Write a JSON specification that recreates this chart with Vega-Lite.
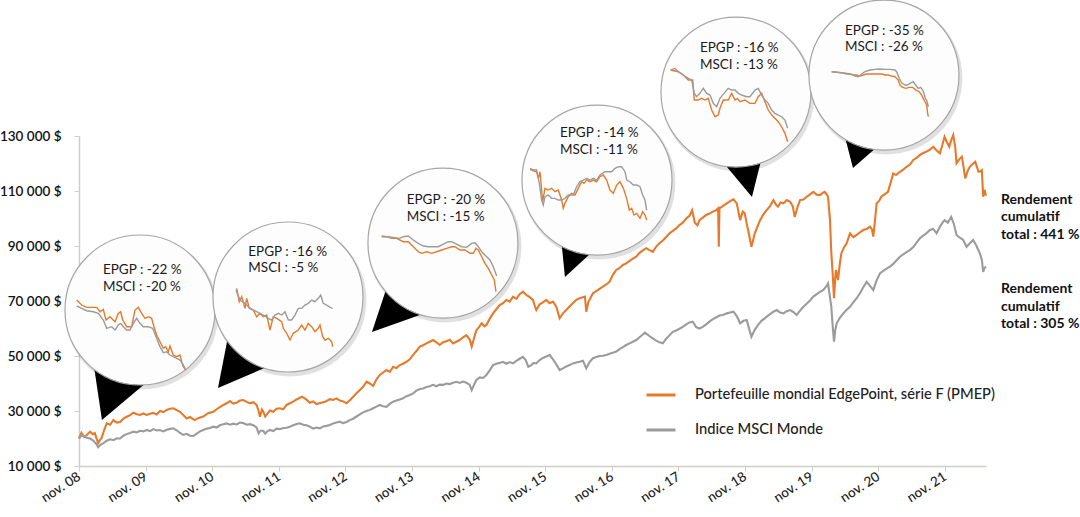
{
  "$schema": "https://vega.github.io/schema/vega-lite/v6.json",
  "width": 907,
  "height": 330,
  "autosize": "none",
  "padding": {"left": 79, "top": 136, "right": 94, "bottom": 51},
  "background": "white",
  "config": {
    "view": {"stroke": null},
    "font": "Lato",
    "axis": {"labelFont": "Lato", "grid": false}
  },
  "datasets": {
    "main": [
      {"series":"EPGP","year":2008.833,"value":20000},{"series":"EPGP","year":2008.87,"value":22000},{"series":"EPGP","year":2008.91,"value":20500},{"series":"EPGP","year":2008.94,"value":21000},{"series":"EPGP","year":2009.0,"value":22500},{"series":"EPGP","year":2009.04,"value":21600},{"series":"EPGP","year":2009.07,"value":22000},{"series":"EPGP","year":2009.1,"value":19800},{"series":"EPGP","year":2009.12,"value":18300},{"series":"EPGP","year":2009.15,"value":19500},{"series":"EPGP","year":2009.17,"value":20000},{"series":"EPGP","year":2009.21,"value":23000},{"series":"EPGP","year":2009.25,"value":25500},{"series":"EPGP","year":2009.3,"value":25000},{"series":"EPGP","year":2009.35,"value":26700},{"series":"EPGP","year":2009.4,"value":25800},{"series":"EPGP","year":2009.45,"value":26000},{"series":"EPGP","year":2009.5,"value":27200},{"series":"EPGP","year":2009.55,"value":27900},{"series":"EPGP","year":2009.6,"value":28500},{"series":"EPGP","year":2009.65,"value":29400},{"series":"EPGP","year":2009.7,"value":28800},{"series":"EPGP","year":2009.75,"value":28600},{"series":"EPGP","year":2009.8,"value":29100},{"series":"EPGP","year":2009.85,"value":28600},{"series":"EPGP","year":2009.9,"value":29000},{"series":"EPGP","year":2009.95,"value":29300},{"series":"EPGP","year":2010.0,"value":28700},{"series":"EPGP","year":2010.05,"value":30000},{"series":"EPGP","year":2010.1,"value":29600},{"series":"EPGP","year":2010.15,"value":30400},{"series":"EPGP","year":2010.2,"value":30800},{"series":"EPGP","year":2010.25,"value":31000},{"series":"EPGP","year":2010.3,"value":30300},{"series":"EPGP","year":2010.35,"value":29700},{"series":"EPGP","year":2010.4,"value":28500},{"series":"EPGP","year":2010.45,"value":27300},{"series":"EPGP","year":2010.5,"value":27800},{"series":"EPGP","year":2010.57,"value":26700},{"series":"EPGP","year":2010.63,"value":27500},{"series":"EPGP","year":2010.7,"value":28000},{"series":"EPGP","year":2010.77,"value":29200},{"series":"EPGP","year":2010.85,"value":29700},{"series":"EPGP","year":2010.92,"value":31000},{"series":"EPGP","year":2011.0,"value":32200},{"series":"EPGP","year":2011.05,"value":32800},{"series":"EPGP","year":2011.1,"value":33600},{"series":"EPGP","year":2011.15,"value":32700},{"series":"EPGP","year":2011.2,"value":33000},{"series":"EPGP","year":2011.25,"value":33800},{"series":"EPGP","year":2011.3,"value":34000},{"series":"EPGP","year":2011.35,"value":33300},{"series":"EPGP","year":2011.4,"value":32800},{"series":"EPGP","year":2011.45,"value":33200},{"series":"EPGP","year":2011.5,"value":32200},{"series":"EPGP","year":2011.53,"value":30000},{"series":"EPGP","year":2011.55,"value":27900},{"series":"EPGP","year":2011.58,"value":30500},{"series":"EPGP","year":2011.6,"value":29700},{"series":"EPGP","year":2011.63,"value":28000},{"series":"EPGP","year":2011.65,"value":28600},{"series":"EPGP","year":2011.7,"value":30200},{"series":"EPGP","year":2011.75,"value":29700},{"series":"EPGP","year":2011.8,"value":30800},{"series":"EPGP","year":2011.85,"value":31000},{"series":"EPGP","year":2011.9,"value":30600},{"series":"EPGP","year":2011.95,"value":32200},{"series":"EPGP","year":2012.0,"value":32800},{"series":"EPGP","year":2012.05,"value":33400},{"series":"EPGP","year":2012.1,"value":34200},{"series":"EPGP","year":2012.18,"value":35200},{"series":"EPGP","year":2012.24,"value":34300},{"series":"EPGP","year":2012.3,"value":33000},{"series":"EPGP","year":2012.35,"value":33500},{"series":"EPGP","year":2012.4,"value":32500},{"series":"EPGP","year":2012.47,"value":33000},{"series":"EPGP","year":2012.53,"value":33400},{"series":"EPGP","year":2012.6,"value":34300},{"series":"EPGP","year":2012.65,"value":34000},{"series":"EPGP","year":2012.7,"value":34600},{"series":"EPGP","year":2012.75,"value":33800},{"series":"EPGP","year":2012.8,"value":33500},{"series":"EPGP","year":2012.85,"value":32800},{"series":"EPGP","year":2012.9,"value":33900},{"series":"EPGP","year":2012.95,"value":35200},{"series":"EPGP","year":2013.0,"value":36500},{"series":"EPGP","year":2013.05,"value":37600},{"series":"EPGP","year":2013.1,"value":38800},{"series":"EPGP","year":2013.15,"value":40700},{"series":"EPGP","year":2013.2,"value":40000},{"series":"EPGP","year":2013.25,"value":39100},{"series":"EPGP","year":2013.3,"value":41500},{"series":"EPGP","year":2013.35,"value":43100},{"series":"EPGP","year":2013.4,"value":44000},{"series":"EPGP","year":2013.45,"value":44900},{"series":"EPGP","year":2013.5,"value":44200},{"series":"EPGP","year":2013.55,"value":46100},{"series":"EPGP","year":2013.6,"value":45600},{"series":"EPGP","year":2013.65,"value":46700},{"series":"EPGP","year":2013.7,"value":47200},{"series":"EPGP","year":2013.75,"value":47900},{"series":"EPGP","year":2013.8,"value":48800},{"series":"EPGP","year":2013.85,"value":50400},{"series":"EPGP","year":2013.9,"value":51800},{"series":"EPGP","year":2013.95,"value":53400},{"series":"EPGP","year":2014.0,"value":53900},{"series":"EPGP","year":2014.05,"value":54600},{"series":"EPGP","year":2014.1,"value":55200},{"series":"EPGP","year":2014.15,"value":55800},{"series":"EPGP","year":2014.2,"value":55000},{"series":"EPGP","year":2014.25,"value":54000},{"series":"EPGP","year":2014.3,"value":55000},{"series":"EPGP","year":2014.35,"value":55400},{"series":"EPGP","year":2014.4,"value":55900},{"series":"EPGP","year":2014.45,"value":54600},{"series":"EPGP","year":2014.5,"value":55200},{"series":"EPGP","year":2014.55,"value":55800},{"series":"EPGP","year":2014.6,"value":56800},{"series":"EPGP","year":2014.65,"value":57600},{"series":"EPGP","year":2014.7,"value":56000},{"series":"EPGP","year":2014.73,"value":53400},{"series":"EPGP","year":2014.77,"value":57000},{"series":"EPGP","year":2014.8,"value":59400},{"series":"EPGP","year":2014.84,"value":60500},{"series":"EPGP","year":2014.88,"value":61900},{"series":"EPGP","year":2014.92,"value":60800},{"series":"EPGP","year":2014.95,"value":61300},{"series":"EPGP","year":2015.0,"value":63500},{"series":"EPGP","year":2015.05,"value":65500},{"series":"EPGP","year":2015.1,"value":67000},{"series":"EPGP","year":2015.15,"value":68500},{"series":"EPGP","year":2015.2,"value":69200},{"series":"EPGP","year":2015.25,"value":70400},{"series":"EPGP","year":2015.3,"value":69800},{"series":"EPGP","year":2015.35,"value":71600},{"series":"EPGP","year":2015.4,"value":70800},{"series":"EPGP","year":2015.45,"value":72500},{"series":"EPGP","year":2015.5,"value":73400},{"series":"EPGP","year":2015.55,"value":72200},{"series":"EPGP","year":2015.6,"value":71400},{"series":"EPGP","year":2015.65,"value":70400},{"series":"EPGP","year":2015.68,"value":68000},{"series":"EPGP","year":2015.7,"value":66700},{"series":"EPGP","year":2015.75,"value":68800},{"series":"EPGP","year":2015.8,"value":69500},{"series":"EPGP","year":2015.85,"value":70400},{"series":"EPGP","year":2015.9,"value":69200},{"series":"EPGP","year":2015.95,"value":69800},{"series":"EPGP","year":2016.0,"value":67900},{"series":"EPGP","year":2016.05,"value":63700},{"series":"EPGP","year":2016.1,"value":65500},{"series":"EPGP","year":2016.15,"value":66700},{"series":"EPGP","year":2016.2,"value":68000},{"series":"EPGP","year":2016.25,"value":69300},{"series":"EPGP","year":2016.3,"value":70400},{"series":"EPGP","year":2016.35,"value":71000},{"series":"EPGP","year":2016.43,"value":71600},{"series":"EPGP","year":2016.45,"value":66100},{"series":"EPGP","year":2016.48,"value":69500},{"series":"EPGP","year":2016.55,"value":72800},{"series":"EPGP","year":2016.6,"value":73600},{"series":"EPGP","year":2016.65,"value":74400},{"series":"EPGP","year":2016.7,"value":75200},{"series":"EPGP","year":2016.75,"value":76000},{"series":"EPGP","year":2016.8,"value":77000},{"series":"EPGP","year":2016.85,"value":79500},{"series":"EPGP","year":2016.9,"value":81300},{"series":"EPGP","year":2016.95,"value":82000},{"series":"EPGP","year":2017.0,"value":83100},{"series":"EPGP","year":2017.05,"value":83700},{"series":"EPGP","year":2017.1,"value":84600},{"series":"EPGP","year":2017.15,"value":85400},{"series":"EPGP","year":2017.2,"value":86100},{"series":"EPGP","year":2017.25,"value":87500},{"series":"EPGP","year":2017.3,"value":88400},{"series":"EPGP","year":2017.35,"value":89200},{"series":"EPGP","year":2017.4,"value":88500},{"series":"EPGP","year":2017.45,"value":87900},{"series":"EPGP","year":2017.5,"value":89800},{"series":"EPGP","year":2017.55,"value":91000},{"series":"EPGP","year":2017.6,"value":92000},{"series":"EPGP","year":2017.65,"value":93300},{"series":"EPGP","year":2017.7,"value":94600},{"series":"EPGP","year":2017.75,"value":95500},{"series":"EPGP","year":2017.8,"value":96400},{"series":"EPGP","year":2017.85,"value":97600},{"series":"EPGP","year":2017.9,"value":98500},{"series":"EPGP","year":2017.95,"value":100000},{"series":"EPGP","year":2018.0,"value":101000},{"series":"EPGP","year":2018.04,"value":103000},{"series":"EPGP","year":2018.08,"value":98500},{"series":"EPGP","year":2018.12,"value":97500},{"series":"EPGP","year":2018.15,"value":99400},{"series":"EPGP","year":2018.2,"value":100300},{"series":"EPGP","year":2018.25,"value":101300},{"series":"EPGP","year":2018.3,"value":101800},{"series":"EPGP","year":2018.35,"value":102500},{"series":"EPGP","year":2018.4,"value":103000},{"series":"EPGP","year":2018.43,"value":103700},{"series":"EPGP","year":2018.44,"value":89700},{"series":"EPGP","year":2018.45,"value":103700},{"series":"EPGP","year":2018.5,"value":104500},{"series":"EPGP","year":2018.56,"value":105500},{"series":"EPGP","year":2018.61,"value":106300},{"series":"EPGP","year":2018.66,"value":107000},{"series":"EPGP","year":2018.71,"value":105500},{"series":"EPGP","year":2018.76,"value":99400},{"series":"EPGP","year":2018.8,"value":102500},{"series":"EPGP","year":2018.83,"value":101900},{"series":"EPGP","year":2018.86,"value":98000},{"series":"EPGP","year":2018.88,"value":95800},{"series":"EPGP","year":2018.93,"value":89700},{"series":"EPGP","year":2018.96,"value":92500},{"series":"EPGP","year":2018.98,"value":94600},{"series":"EPGP","year":2019.02,"value":97000},{"series":"EPGP","year":2019.06,"value":99400},{"series":"EPGP","year":2019.11,"value":101500},{"series":"EPGP","year":2019.16,"value":103100},{"series":"EPGP","year":2019.21,"value":104500},{"series":"EPGP","year":2019.26,"value":106700},{"series":"EPGP","year":2019.3,"value":105000},{"series":"EPGP","year":2019.33,"value":104300},{"series":"EPGP","year":2019.37,"value":105800},{"series":"EPGP","year":2019.41,"value":105500},{"series":"EPGP","year":2019.46,"value":106700},{"series":"EPGP","year":2019.51,"value":106100},{"series":"EPGP","year":2019.55,"value":104500},{"series":"EPGP","year":2019.58,"value":100600},{"series":"EPGP","year":2019.62,"value":104000},{"series":"EPGP","year":2019.66,"value":106700},{"series":"EPGP","year":2019.71,"value":106900},{"series":"EPGP","year":2019.76,"value":107900},{"series":"EPGP","year":2019.81,"value":108800},{"series":"EPGP","year":2019.86,"value":109700},{"series":"EPGP","year":2019.91,"value":108600},{"series":"EPGP","year":2019.96,"value":108500},{"series":"EPGP","year":2020.0,"value":109300},{"series":"EPGP","year":2020.03,"value":109700},{"series":"EPGP","year":2020.06,"value":108800},{"series":"EPGP","year":2020.08,"value":107900},{"series":"EPGP","year":2020.11,"value":99400},{"series":"EPGP","year":2020.13,"value":87300},{"series":"EPGP","year":2020.15,"value":80000},{"series":"EPGP","year":2020.17,"value":71000},{"series":"EPGP","year":2020.19,"value":79000},{"series":"EPGP","year":2020.2,"value":81300},{"series":"EPGP","year":2020.23,"value":77600},{"series":"EPGP","year":2020.26,"value":84000},{"series":"EPGP","year":2020.28,"value":87300},{"series":"EPGP","year":2020.32,"value":89500},{"series":"EPGP","year":2020.36,"value":91000},{"series":"EPGP","year":2020.41,"value":94600},{"series":"EPGP","year":2020.46,"value":93200},{"series":"EPGP","year":2020.51,"value":94000},{"series":"EPGP","year":2020.56,"value":95000},{"series":"EPGP","year":2020.61,"value":95800},{"series":"EPGP","year":2020.66,"value":96200},{"series":"EPGP","year":2020.71,"value":97000},{"series":"EPGP","year":2020.74,"value":96000},{"series":"EPGP","year":2020.76,"value":93400},{"series":"EPGP","year":2020.78,"value":98000},{"series":"EPGP","year":2020.81,"value":105500},{"series":"EPGP","year":2020.85,"value":106500},{"series":"EPGP","year":2020.88,"value":107900},{"series":"EPGP","year":2020.93,"value":108800},{"series":"EPGP","year":2020.98,"value":109700},{"series":"EPGP","year":2021.02,"value":113000},{"series":"EPGP","year":2021.06,"value":116400},{"series":"EPGP","year":2021.1,"value":115800},{"series":"EPGP","year":2021.16,"value":117000},{"series":"EPGP","year":2021.21,"value":117800},{"series":"EPGP","year":2021.26,"value":118800},{"series":"EPGP","year":2021.31,"value":119600},{"series":"EPGP","year":2021.36,"value":121300},{"series":"EPGP","year":2021.41,"value":122000},{"series":"EPGP","year":2021.46,"value":123100},{"series":"EPGP","year":2021.51,"value":123800},{"series":"EPGP","year":2021.56,"value":124300},{"series":"EPGP","year":2021.61,"value":125000},{"series":"EPGP","year":2021.66,"value":126100},{"series":"EPGP","year":2021.7,"value":125000},{"series":"EPGP","year":2021.76,"value":123700},{"series":"EPGP","year":2021.8,"value":127000},{"series":"EPGP","year":2021.83,"value":129700},{"series":"EPGP","year":2021.86,"value":128000},{"series":"EPGP","year":2021.9,"value":126100},{"series":"EPGP","year":2021.93,"value":128500},{"series":"EPGP","year":2021.96,"value":130300},{"series":"EPGP","year":2021.99,"value":126000},{"series":"EPGP","year":2022.01,"value":120100},{"series":"EPGP","year":2022.05,"value":121500},{"series":"EPGP","year":2022.09,"value":122500},{"series":"EPGP","year":2022.12,"value":118000},{"series":"EPGP","year":2022.14,"value":114600},{"series":"EPGP","year":2022.18,"value":117500},{"series":"EPGP","year":2022.21,"value":118800},{"series":"EPGP","year":2022.25,"value":119800},{"series":"EPGP","year":2022.29,"value":120600},{"series":"EPGP","year":2022.32,"value":118500},{"series":"EPGP","year":2022.34,"value":117000},{"series":"EPGP","year":2022.37,"value":117200},{"series":"EPGP","year":2022.39,"value":117600},{"series":"EPGP","year":2022.41,"value":107900},{"series":"EPGP","year":2022.43,"value":110500},{"series":"EPGP","year":2022.452,"value":108300},
      {"series":"MSCI","year":2008.833,"value":20000},{"series":"MSCI","year":2008.87,"value":21200},{"series":"MSCI","year":2008.9,"value":20900},{"series":"MSCI","year":2008.95,"value":20300},{"series":"MSCI","year":2009.0,"value":20000},{"series":"MSCI","year":2009.05,"value":19200},{"series":"MSCI","year":2009.1,"value":17800},{"series":"MSCI","year":2009.12,"value":16800},{"series":"MSCI","year":2009.16,"value":17800},{"series":"MSCI","year":2009.2,"value":18300},{"series":"MSCI","year":2009.25,"value":19200},{"series":"MSCI","year":2009.3,"value":19700},{"series":"MSCI","year":2009.35,"value":19400},{"series":"MSCI","year":2009.4,"value":20100},{"series":"MSCI","year":2009.45,"value":20000},{"series":"MSCI","year":2009.5,"value":21000},{"series":"MSCI","year":2009.55,"value":21600},{"series":"MSCI","year":2009.6,"value":22000},{"series":"MSCI","year":2009.65,"value":22500},{"series":"MSCI","year":2009.7,"value":22200},{"series":"MSCI","year":2009.75,"value":22800},{"series":"MSCI","year":2009.8,"value":22600},{"series":"MSCI","year":2009.85,"value":23100},{"series":"MSCI","year":2009.9,"value":22700},{"series":"MSCI","year":2009.95,"value":23400},{"series":"MSCI","year":2010.0,"value":22900},{"series":"MSCI","year":2010.05,"value":23100},{"series":"MSCI","year":2010.1,"value":22600},{"series":"MSCI","year":2010.15,"value":23200},{"series":"MSCI","year":2010.2,"value":23500},{"series":"MSCI","year":2010.25,"value":23700},{"series":"MSCI","year":2010.3,"value":23000},{"series":"MSCI","year":2010.35,"value":22000},{"series":"MSCI","year":2010.4,"value":21300},{"series":"MSCI","year":2010.45,"value":21700},{"series":"MSCI","year":2010.5,"value":21000},{"series":"MSCI","year":2010.55,"value":20900},{"series":"MSCI","year":2010.6,"value":21800},{"series":"MSCI","year":2010.65,"value":22600},{"series":"MSCI","year":2010.7,"value":23100},{"series":"MSCI","year":2010.75,"value":23600},{"series":"MSCI","year":2010.8,"value":23800},{"series":"MSCI","year":2010.85,"value":24300},{"series":"MSCI","year":2010.9,"value":24000},{"series":"MSCI","year":2010.95,"value":24800},{"series":"MSCI","year":2011.0,"value":25200},{"series":"MSCI","year":2011.05,"value":25500},{"series":"MSCI","year":2011.1,"value":25000},{"series":"MSCI","year":2011.15,"value":25400},{"series":"MSCI","year":2011.2,"value":25100},{"series":"MSCI","year":2011.25,"value":25800},{"series":"MSCI","year":2011.3,"value":25600},{"series":"MSCI","year":2011.35,"value":25000},{"series":"MSCI","year":2011.4,"value":25200},{"series":"MSCI","year":2011.45,"value":24800},{"series":"MSCI","year":2011.5,"value":24000},{"series":"MSCI","year":2011.53,"value":21900},{"series":"MSCI","year":2011.56,"value":22800},{"series":"MSCI","year":2011.6,"value":22800},{"series":"MSCI","year":2011.63,"value":21800},{"series":"MSCI","year":2011.66,"value":22600},{"series":"MSCI","year":2011.7,"value":23100},{"series":"MSCI","year":2011.75,"value":22700},{"series":"MSCI","year":2011.8,"value":23600},{"series":"MSCI","year":2011.85,"value":23400},{"series":"MSCI","year":2011.9,"value":23800},{"series":"MSCI","year":2011.95,"value":23900},{"series":"MSCI","year":2012.0,"value":24300},{"series":"MSCI","year":2012.05,"value":24800},{"series":"MSCI","year":2012.1,"value":25300},{"series":"MSCI","year":2012.15,"value":25500},{"series":"MSCI","year":2012.2,"value":25000},{"series":"MSCI","year":2012.25,"value":24800},{"series":"MSCI","year":2012.3,"value":24300},{"series":"MSCI","year":2012.35,"value":23600},{"series":"MSCI","year":2012.4,"value":24000},{"series":"MSCI","year":2012.45,"value":23700},{"series":"MSCI","year":2012.5,"value":24400},{"series":"MSCI","year":2012.55,"value":24600},{"series":"MSCI","year":2012.6,"value":24900},{"series":"MSCI","year":2012.65,"value":25500},{"series":"MSCI","year":2012.7,"value":25800},{"series":"MSCI","year":2012.75,"value":26100},{"series":"MSCI","year":2012.8,"value":25600},{"series":"MSCI","year":2012.85,"value":26000},{"series":"MSCI","year":2012.9,"value":26700},{"series":"MSCI","year":2012.95,"value":27200},{"series":"MSCI","year":2013.0,"value":28000},{"series":"MSCI","year":2013.05,"value":28800},{"series":"MSCI","year":2013.1,"value":29500},{"series":"MSCI","year":2013.15,"value":30000},{"series":"MSCI","year":2013.2,"value":30400},{"series":"MSCI","year":2013.25,"value":31000},{"series":"MSCI","year":2013.3,"value":31600},{"series":"MSCI","year":2013.35,"value":32200},{"series":"MSCI","year":2013.4,"value":31700},{"series":"MSCI","year":2013.45,"value":31500},{"series":"MSCI","year":2013.5,"value":32600},{"series":"MSCI","year":2013.55,"value":33400},{"series":"MSCI","year":2013.6,"value":33800},{"series":"MSCI","year":2013.65,"value":34200},{"series":"MSCI","year":2013.7,"value":34600},{"series":"MSCI","year":2013.75,"value":35400},{"series":"MSCI","year":2013.8,"value":35800},{"series":"MSCI","year":2013.85,"value":36400},{"series":"MSCI","year":2013.9,"value":37400},{"series":"MSCI","year":2013.95,"value":38000},{"series":"MSCI","year":2014.0,"value":38200},{"series":"MSCI","year":2014.05,"value":38700},{"series":"MSCI","year":2014.1,"value":39000},{"series":"MSCI","year":2014.15,"value":39500},{"series":"MSCI","year":2014.2,"value":39000},{"series":"MSCI","year":2014.25,"value":39600},{"series":"MSCI","year":2014.3,"value":39500},{"series":"MSCI","year":2014.35,"value":40000},{"series":"MSCI","year":2014.4,"value":39800},{"series":"MSCI","year":2014.45,"value":40300},{"series":"MSCI","year":2014.5,"value":40600},{"series":"MSCI","year":2014.55,"value":40200},{"series":"MSCI","year":2014.6,"value":40700},{"series":"MSCI","year":2014.65,"value":40300},{"series":"MSCI","year":2014.7,"value":39500},{"series":"MSCI","year":2014.73,"value":37600},{"series":"MSCI","year":2014.77,"value":39800},{"series":"MSCI","year":2014.8,"value":41300},{"series":"MSCI","year":2014.85,"value":42200},{"series":"MSCI","year":2014.9,"value":42000},{"series":"MSCI","year":2014.95,"value":43100},{"series":"MSCI","year":2015.0,"value":44800},{"series":"MSCI","year":2015.05,"value":46700},{"series":"MSCI","year":2015.1,"value":47200},{"series":"MSCI","year":2015.15,"value":47500},{"series":"MSCI","year":2015.2,"value":47900},{"series":"MSCI","year":2015.25,"value":47200},{"series":"MSCI","year":2015.3,"value":47800},{"series":"MSCI","year":2015.35,"value":47300},{"series":"MSCI","year":2015.4,"value":48200},{"series":"MSCI","year":2015.45,"value":49000},{"series":"MSCI","year":2015.5,"value":49700},{"series":"MSCI","year":2015.54,"value":48500},{"series":"MSCI","year":2015.58,"value":46100},{"series":"MSCI","year":2015.62,"value":46600},{"series":"MSCI","year":2015.66,"value":47500},{"series":"MSCI","year":2015.7,"value":47300},{"series":"MSCI","year":2015.75,"value":48500},{"series":"MSCI","year":2015.8,"value":49300},{"series":"MSCI","year":2015.85,"value":49800},{"series":"MSCI","year":2015.9,"value":50400},{"series":"MSCI","year":2015.95,"value":48800},{"series":"MSCI","year":2016.0,"value":47000},{"series":"MSCI","year":2016.05,"value":44900},{"series":"MSCI","year":2016.1,"value":45500},{"series":"MSCI","year":2016.15,"value":46200},{"series":"MSCI","year":2016.2,"value":46700},{"series":"MSCI","year":2016.25,"value":47300},{"series":"MSCI","year":2016.3,"value":47600},{"series":"MSCI","year":2016.35,"value":47900},{"series":"MSCI","year":2016.4,"value":48300},{"series":"MSCI","year":2016.45,"value":45500},{"series":"MSCI","year":2016.5,"value":47800},{"series":"MSCI","year":2016.55,"value":49200},{"series":"MSCI","year":2016.6,"value":49600},{"series":"MSCI","year":2016.65,"value":50000},{"series":"MSCI","year":2016.7,"value":50100},{"series":"MSCI","year":2016.75,"value":50400},{"series":"MSCI","year":2016.8,"value":50800},{"series":"MSCI","year":2016.85,"value":51200},{"series":"MSCI","year":2016.9,"value":51600},{"series":"MSCI","year":2016.95,"value":52500},{"series":"MSCI","year":2017.0,"value":53200},{"series":"MSCI","year":2017.05,"value":54000},{"series":"MSCI","year":2017.1,"value":54600},{"series":"MSCI","year":2017.15,"value":55200},{"series":"MSCI","year":2017.2,"value":55800},{"series":"MSCI","year":2017.25,"value":56800},{"series":"MSCI","year":2017.3,"value":57800},{"series":"MSCI","year":2017.33,"value":58500},{"series":"MSCI","year":2017.37,"value":57800},{"series":"MSCI","year":2017.41,"value":57000},{"series":"MSCI","year":2017.45,"value":56400},{"series":"MSCI","year":2017.5,"value":55600},{"series":"MSCI","year":2017.55,"value":55000},{"series":"MSCI","year":2017.6,"value":54600},{"series":"MSCI","year":2017.65,"value":56300},{"series":"MSCI","year":2017.7,"value":57500},{"series":"MSCI","year":2017.75,"value":58800},{"series":"MSCI","year":2017.8,"value":59300},{"series":"MSCI","year":2017.85,"value":59900},{"series":"MSCI","year":2017.9,"value":60600},{"series":"MSCI","year":2017.95,"value":61500},{"series":"MSCI","year":2018.0,"value":62200},{"series":"MSCI","year":2018.05,"value":62500},{"series":"MSCI","year":2018.1,"value":60500},{"series":"MSCI","year":2018.15,"value":60000},{"series":"MSCI","year":2018.2,"value":60600},{"series":"MSCI","year":2018.25,"value":61500},{"series":"MSCI","year":2018.3,"value":62500},{"series":"MSCI","year":2018.35,"value":63400},{"series":"MSCI","year":2018.4,"value":64000},{"series":"MSCI","year":2018.45,"value":64700},{"series":"MSCI","year":2018.5,"value":64900},{"series":"MSCI","year":2018.56,"value":65500},{"series":"MSCI","year":2018.61,"value":65800},{"series":"MSCI","year":2018.66,"value":66100},{"series":"MSCI","year":2018.71,"value":64500},{"series":"MSCI","year":2018.76,"value":61900},{"series":"MSCI","year":2018.81,"value":62800},{"series":"MSCI","year":2018.86,"value":63100},{"series":"MSCI","year":2018.9,"value":59500},{"series":"MSCI","year":2018.93,"value":57000},{"series":"MSCI","year":2018.98,"value":59500},{"series":"MSCI","year":2019.03,"value":61300},{"series":"MSCI","year":2019.08,"value":62800},{"series":"MSCI","year":2019.13,"value":63700},{"series":"MSCI","year":2019.16,"value":64300},{"series":"MSCI","year":2019.21,"value":65200},{"series":"MSCI","year":2019.26,"value":66100},{"series":"MSCI","year":2019.31,"value":66700},{"series":"MSCI","year":2019.36,"value":65800},{"series":"MSCI","year":2019.41,"value":65500},{"series":"MSCI","year":2019.46,"value":66300},{"series":"MSCI","year":2019.51,"value":66700},{"series":"MSCI","year":2019.56,"value":66000},{"series":"MSCI","year":2019.61,"value":64900},{"series":"MSCI","year":2019.66,"value":66500},{"series":"MSCI","year":2019.71,"value":67900},{"series":"MSCI","year":2019.76,"value":69000},{"series":"MSCI","year":2019.81,"value":70200},{"series":"MSCI","year":2019.86,"value":71600},{"series":"MSCI","year":2019.91,"value":72500},{"series":"MSCI","year":2019.96,"value":73300},{"series":"MSCI","year":2020.01,"value":74000},{"series":"MSCI","year":2020.05,"value":75200},{"series":"MSCI","year":2020.08,"value":76400},{"series":"MSCI","year":2020.1,"value":73000},{"series":"MSCI","year":2020.13,"value":67900},{"series":"MSCI","year":2020.15,"value":61000},{"series":"MSCI","year":2020.17,"value":55200},{"series":"MSCI","year":2020.19,"value":59500},{"series":"MSCI","year":2020.21,"value":61900},{"series":"MSCI","year":2020.26,"value":64000},{"series":"MSCI","year":2020.31,"value":65500},{"series":"MSCI","year":2020.36,"value":66800},{"series":"MSCI","year":2020.41,"value":67900},{"series":"MSCI","year":2020.46,"value":69500},{"series":"MSCI","year":2020.51,"value":71000},{"series":"MSCI","year":2020.56,"value":72800},{"series":"MSCI","year":2020.61,"value":75000},{"series":"MSCI","year":2020.66,"value":77000},{"series":"MSCI","year":2020.71,"value":75500},{"series":"MSCI","year":2020.76,"value":74000},{"series":"MSCI","year":2020.81,"value":77500},{"series":"MSCI","year":2020.86,"value":80000},{"series":"MSCI","year":2020.91,"value":81000},{"series":"MSCI","year":2020.96,"value":81800},{"series":"MSCI","year":2021.01,"value":82500},{"series":"MSCI","year":2021.06,"value":83500},{"series":"MSCI","year":2021.11,"value":84800},{"series":"MSCI","year":2021.16,"value":86100},{"series":"MSCI","year":2021.21,"value":87000},{"series":"MSCI","year":2021.26,"value":87800},{"series":"MSCI","year":2021.31,"value":88500},{"series":"MSCI","year":2021.36,"value":89600},{"series":"MSCI","year":2021.41,"value":91200},{"series":"MSCI","year":2021.46,"value":92800},{"series":"MSCI","year":2021.51,"value":93800},{"series":"MSCI","year":2021.56,"value":94700},{"series":"MSCI","year":2021.61,"value":95800},{"series":"MSCI","year":2021.66,"value":96200},{"series":"MSCI","year":2021.71,"value":94600},{"series":"MSCI","year":2021.76,"value":97000},{"series":"MSCI","year":2021.8,"value":98500},{"series":"MSCI","year":2021.83,"value":99400},{"series":"MSCI","year":2021.88,"value":98500},{"series":"MSCI","year":2021.93,"value":100600},{"series":"MSCI","year":2021.97,"value":98000},{"series":"MSCI","year":2022.01,"value":94000},{"series":"MSCI","year":2022.06,"value":93000},{"series":"MSCI","year":2022.11,"value":92200},{"series":"MSCI","year":2022.16,"value":89700},{"series":"MSCI","year":2022.21,"value":91000},{"series":"MSCI","year":2022.26,"value":92200},{"series":"MSCI","year":2022.31,"value":90000},{"series":"MSCI","year":2022.36,"value":87300},{"series":"MSCI","year":2022.39,"value":85000},{"series":"MSCI","year":2022.41,"value":80600},{"series":"MSCI","year":2022.43,"value":82000},{"series":"MSCI","year":2022.452,"value":82500}
    ],
    "circles": [
      {"c":1,"year":2009.749,"value":66720},{"c":2,"year":2011.971,"value":71450},{"c":3,"year":2014.298,"value":91080},
      {"c":4,"year":2016.611,"value":113990},{"c":5,"year":2018.698,"value":145990},{"c":6,"year":2020.92,"value":152170}
    ],
    "tips": [
      {"c":1,"year":2009.178,"value":26730},{"c":2,"year":2010.92,"value":38360},{"c":3,"year":2013.232,"value":58720},
      {"c":4,"year":2016.13,"value":78720},{"c":5,"year":2018.938,"value":107810},{"c":6,"year":2020.455,"value":118350}
    ],
    "notes": [
      {"c":1,"year":2009.193,"value":81270,"label":"EPGP : -22 %\nMSCI : -20 %"},
      {"c":2,"year":2011.375,"value":87930,"label":"EPGP : -16 %\nMSCI : -5 %"},
      {"c":3,"year":2013.753,"value":106730,"label":"EPGP : -20 %\nMSCI : -15 %"},
      {"c":4,"year":2016.055,"value":130980,"label":"EPGP : -14 %\nMSCI : -11 %"},
      {"c":5,"year":2018.157,"value":161890,"label":"EPGP : -16 %\nMSCI : -13 %"},
      {"c":6,"year":2020.335,"value":168290,"label":"EPGP : -35 %\nMSCI : -26 %"}
    ],
    "totals": [
      {"year":2022.677,"value":106730,"label":"Rendement\ncumulatif\ntotal : 441 %"},
      {"year":2022.677,"value":74250,"label":"Rendement\ncumulatif\ntotal : 305 %"}
    ],
    "inset": [
      {"c":1,"series":"EPGP","year":2008.798,"value":70360},{"c":1,"series":"EPGP","year":2008.873,"value":68540},{"c":1,"series":"EPGP","year":2008.948,"value":67700},{"c":1,"series":"EPGP","year":2009.098,"value":67700},{"c":1,"series":"EPGP","year":2009.148,"value":66100},{"c":1,"series":"EPGP","year":2009.198,"value":66970},{"c":1,"series":"EPGP","year":2009.238,"value":63090},{"c":1,"series":"EPGP","year":2009.298,"value":64300},{"c":1,"series":"EPGP","year":2009.374,"value":62470},{"c":1,"series":"EPGP","year":2009.423,"value":65500},{"c":1,"series":"EPGP","year":2009.459,"value":66100},{"c":1,"series":"EPGP","year":2009.489,"value":63090},{"c":1,"series":"EPGP","year":2009.549,"value":60660},{"c":1,"series":"EPGP","year":2009.624,"value":60660},{"c":1,"series":"EPGP","year":2009.674,"value":66700},{"c":1,"series":"EPGP","year":2009.724,"value":67700},{"c":1,"series":"EPGP","year":2009.774,"value":65500},{"c":1,"series":"EPGP","year":2009.824,"value":63700},{"c":1,"series":"EPGP","year":2009.874,"value":64300},{"c":1,"series":"EPGP","year":2009.924,"value":63700},{"c":1,"series":"EPGP","year":2009.959,"value":60660},{"c":1,"series":"EPGP","year":2009.999,"value":57630},{"c":1,"series":"EPGP","year":2010.049,"value":55200},{"c":1,"series":"EPGP","year":2010.099,"value":52800},{"c":1,"series":"EPGP","year":2010.135,"value":53380},{"c":1,"series":"EPGP","year":2010.174,"value":51560},{"c":1,"series":"EPGP","year":2010.199,"value":53630},{"c":1,"series":"EPGP","year":2010.249,"value":50360},{"c":1,"series":"EPGP","year":2010.3,"value":49740},{"c":1,"series":"EPGP","year":2010.35,"value":50360},{"c":1,"series":"EPGP","year":2010.375,"value":47920},{"c":1,"series":"EPGP","year":2010.4,"value":46100},{"c":1,"series":"EPGP","year":2010.435,"value":44900},
      {"c":1,"series":"MSCI","year":2008.798,"value":68180},{"c":1,"series":"MSCI","year":2008.873,"value":67330},{"c":1,"series":"MSCI","year":2008.948,"value":66470},{"c":1,"series":"MSCI","year":2009.048,"value":66100},{"c":1,"series":"MSCI","year":2009.123,"value":65500},{"c":1,"series":"MSCI","year":2009.198,"value":63090},{"c":1,"series":"MSCI","year":2009.249,"value":60060},{"c":1,"series":"MSCI","year":2009.324,"value":60660},{"c":1,"series":"MSCI","year":2009.374,"value":59450},{"c":1,"series":"MSCI","year":2009.423,"value":61270},{"c":1,"series":"MSCI","year":2009.459,"value":61880},{"c":1,"series":"MSCI","year":2009.499,"value":60660},{"c":1,"series":"MSCI","year":2009.549,"value":59450},{"c":1,"series":"MSCI","year":2009.599,"value":59450},{"c":1,"series":"MSCI","year":2009.649,"value":61880},{"c":1,"series":"MSCI","year":2009.699,"value":63700},{"c":1,"series":"MSCI","year":2009.749,"value":61880},{"c":1,"series":"MSCI","year":2009.799,"value":60660},{"c":1,"series":"MSCI","year":2009.874,"value":60660},{"c":1,"series":"MSCI","year":2009.939,"value":60060},{"c":1,"series":"MSCI","year":2009.999,"value":56430},{"c":1,"series":"MSCI","year":2010.049,"value":53380},{"c":1,"series":"MSCI","year":2010.099,"value":51200},{"c":1,"series":"MSCI","year":2010.149,"value":51560},{"c":1,"series":"MSCI","year":2010.199,"value":50360},{"c":1,"series":"MSCI","year":2010.249,"value":49740},{"c":1,"series":"MSCI","year":2010.3,"value":49160},{"c":1,"series":"MSCI","year":2010.35,"value":48540},{"c":1,"series":"MSCI","year":2010.385,"value":47340},{"c":1,"series":"MSCI","year":2010.425,"value":45520},
      {"c":2,"series":"EPGP","year":2011.201,"value":74610},{"c":2,"series":"EPGP","year":2011.24,"value":69740},{"c":2,"series":"EPGP","year":2011.276,"value":71560},{"c":2,"series":"EPGP","year":2011.326,"value":67330},{"c":2,"series":"EPGP","year":2011.351,"value":70980},{"c":2,"series":"EPGP","year":2011.39,"value":67330},{"c":2,"series":"EPGP","year":2011.45,"value":66720},{"c":2,"series":"EPGP","year":2011.501,"value":64290},{"c":2,"series":"EPGP","year":2011.551,"value":65500},{"c":2,"series":"EPGP","year":2011.6,"value":64290},{"c":2,"series":"EPGP","year":2011.651,"value":64900},{"c":2,"series":"EPGP","year":2011.701,"value":59450},{"c":2,"series":"EPGP","year":2011.751,"value":64290},{"c":2,"series":"EPGP","year":2011.801,"value":63700},{"c":2,"series":"EPGP","year":2011.877,"value":62470},{"c":2,"series":"EPGP","year":2011.901,"value":60060},{"c":2,"series":"EPGP","year":2011.952,"value":58250},{"c":2,"series":"EPGP","year":2012.001,"value":55810},{"c":2,"series":"EPGP","year":2012.051,"value":58250},{"c":2,"series":"EPGP","year":2012.126,"value":59450},{"c":2,"series":"EPGP","year":2012.177,"value":61270},{"c":2,"series":"EPGP","year":2012.226,"value":59450},{"c":2,"series":"EPGP","year":2012.276,"value":61880},{"c":2,"series":"EPGP","year":2012.327,"value":60660},{"c":2,"series":"EPGP","year":2012.377,"value":58830},{"c":2,"series":"EPGP","year":2012.426,"value":60060},{"c":2,"series":"EPGP","year":2012.452,"value":61270},{"c":2,"series":"EPGP","year":2012.492,"value":57010},{"c":2,"series":"EPGP","year":2012.527,"value":55810},{"c":2,"series":"EPGP","year":2012.577,"value":56430},{"c":2,"series":"EPGP","year":2012.627,"value":55200},{"c":2,"series":"EPGP","year":2012.642,"value":53380},
      {"c":2,"series":"MSCI","year":2011.19,"value":73990},{"c":2,"series":"MSCI","year":2011.25,"value":70360},{"c":2,"series":"MSCI","year":2011.326,"value":69160},{"c":2,"series":"MSCI","year":2011.375,"value":67920},{"c":2,"series":"MSCI","year":2011.45,"value":66720},{"c":2,"series":"MSCI","year":2011.501,"value":66100},{"c":2,"series":"MSCI","year":2011.6,"value":64900},{"c":2,"series":"MSCI","year":2011.676,"value":63700},{"c":2,"series":"MSCI","year":2011.726,"value":63090},{"c":2,"series":"MSCI","year":2011.776,"value":64900},{"c":2,"series":"MSCI","year":2011.826,"value":65500},{"c":2,"series":"MSCI","year":2011.877,"value":64900},{"c":2,"series":"MSCI","year":2011.926,"value":66100},{"c":2,"series":"MSCI","year":2011.976,"value":63090},{"c":2,"series":"MSCI","year":2012.026,"value":63090},{"c":2,"series":"MSCI","year":2012.076,"value":64900},{"c":2,"series":"MSCI","year":2012.126,"value":67330},{"c":2,"series":"MSCI","year":2012.177,"value":67330},{"c":2,"series":"MSCI","year":2012.226,"value":68540},{"c":2,"series":"MSCI","year":2012.276,"value":69160},{"c":2,"series":"MSCI","year":2012.327,"value":70360},{"c":2,"series":"MSCI","year":2012.377,"value":69740},{"c":2,"series":"MSCI","year":2012.426,"value":70980},{"c":2,"series":"MSCI","year":2012.462,"value":72180},{"c":2,"series":"MSCI","year":2012.501,"value":69160},{"c":2,"series":"MSCI","year":2012.552,"value":68540},{"c":2,"series":"MSCI","year":2012.602,"value":67700},{"c":2,"series":"MSCI","year":2012.642,"value":67330},
      {"c":3,"series":"EPGP","year":2013.378,"value":93630},{"c":3,"series":"EPGP","year":2013.453,"value":93380},{"c":3,"series":"EPGP","year":2013.528,"value":92780},{"c":3,"series":"EPGP","year":2013.603,"value":92780},{"c":3,"series":"EPGP","year":2013.653,"value":92170},{"c":3,"series":"EPGP","year":2013.703,"value":91560},{"c":3,"series":"EPGP","year":2013.778,"value":91560},{"c":3,"series":"EPGP","year":2013.853,"value":89740},{"c":3,"series":"EPGP","year":2013.928,"value":87920},{"c":3,"series":"EPGP","year":2013.979,"value":87340},{"c":3,"series":"EPGP","year":2014.054,"value":87920},{"c":3,"series":"EPGP","year":2014.129,"value":87340},{"c":3,"series":"EPGP","year":2014.204,"value":87920},{"c":3,"series":"EPGP","year":2014.279,"value":88540},{"c":3,"series":"EPGP","year":2014.354,"value":89160},{"c":3,"series":"EPGP","year":2014.429,"value":89740},{"c":3,"series":"EPGP","year":2014.479,"value":89740},{"c":3,"series":"EPGP","year":2014.554,"value":88540},{"c":3,"series":"EPGP","year":2014.629,"value":88540},{"c":3,"series":"EPGP","year":2014.704,"value":87340},{"c":3,"series":"EPGP","year":2014.754,"value":87340},{"c":3,"series":"EPGP","year":2014.794,"value":89160},{"c":3,"series":"EPGP","year":2014.829,"value":88540},{"c":3,"series":"EPGP","year":2014.88,"value":86100},{"c":3,"series":"EPGP","year":2014.929,"value":83700},{"c":3,"series":"EPGP","year":2014.979,"value":81880},{"c":3,"series":"EPGP","year":2015.03,"value":79450},{"c":3,"series":"EPGP","year":2015.069,"value":77630},{"c":3,"series":"EPGP","year":2015.094,"value":73380},
      {"c":3,"series":"MSCI","year":2013.378,"value":93380},{"c":3,"series":"MSCI","year":2013.478,"value":93380},{"c":3,"series":"MSCI","year":2013.553,"value":93150},{"c":3,"series":"MSCI","year":2013.653,"value":92780},{"c":3,"series":"MSCI","year":2013.703,"value":93380},{"c":3,"series":"MSCI","year":2013.778,"value":93630},{"c":3,"series":"MSCI","year":2013.853,"value":92170},{"c":3,"series":"MSCI","year":2013.928,"value":90970},{"c":3,"series":"MSCI","year":2014.004,"value":89990},{"c":3,"series":"MSCI","year":2014.079,"value":89740},{"c":3,"series":"MSCI","year":2014.154,"value":89740},{"c":3,"series":"MSCI","year":2014.229,"value":89740},{"c":3,"series":"MSCI","year":2014.304,"value":90720},{"c":3,"series":"MSCI","year":2014.379,"value":91560},{"c":3,"series":"MSCI","year":2014.429,"value":91560},{"c":3,"series":"MSCI","year":2014.504,"value":90720},{"c":3,"series":"MSCI","year":2014.579,"value":89740},{"c":3,"series":"MSCI","year":2014.654,"value":89520},{"c":3,"series":"MSCI","year":2014.729,"value":90970},{"c":3,"series":"MSCI","year":2014.779,"value":91190},{"c":3,"series":"MSCI","year":2014.829,"value":89740},{"c":3,"series":"MSCI","year":2014.88,"value":87920},{"c":3,"series":"MSCI","year":2014.955,"value":86100},{"c":3,"series":"MSCI","year":2015.004,"value":84900},{"c":3,"series":"MSCI","year":2015.054,"value":82470},{"c":3,"series":"MSCI","year":2015.105,"value":79080},
      {"c":4,"series":"EPGP","year":2015.605,"value":117880},{"c":4,"series":"EPGP","year":2015.655,"value":117370},{"c":4,"series":"EPGP","year":2015.705,"value":117010},{"c":4,"series":"EPGP","year":2015.73,"value":114610},{"c":4,"series":"EPGP","year":2015.755,"value":117010},{"c":4,"series":"EPGP","year":2015.78,"value":110350},{"c":4,"series":"EPGP","year":2015.795,"value":106100},{"c":4,"series":"EPGP","year":2015.83,"value":110970},{"c":4,"series":"EPGP","year":2015.88,"value":110350},{"c":4,"series":"EPGP","year":2015.93,"value":110970},{"c":4,"series":"EPGP","year":2015.98,"value":109740},{"c":4,"series":"EPGP","year":2016.03,"value":110350},{"c":4,"series":"EPGP","year":2016.081,"value":106720},{"c":4,"series":"EPGP","year":2016.105,"value":103700},{"c":4,"series":"EPGP","year":2016.13,"value":105520},{"c":4,"series":"EPGP","year":2016.18,"value":107920},{"c":4,"series":"EPGP","year":2016.23,"value":109160},{"c":4,"series":"EPGP","year":2016.28,"value":108540},{"c":4,"series":"EPGP","year":2016.33,"value":110970},{"c":4,"series":"EPGP","year":2016.381,"value":113370},{"c":4,"series":"EPGP","year":2016.415,"value":112790},{"c":4,"series":"EPGP","year":2016.456,"value":113990},{"c":4,"series":"EPGP","year":2016.506,"value":113370},{"c":4,"series":"EPGP","year":2016.556,"value":113990},{"c":4,"series":"EPGP","year":2016.606,"value":113370},{"c":4,"series":"EPGP","year":2016.656,"value":115200},{"c":4,"series":"EPGP","year":2016.706,"value":115810},{"c":4,"series":"EPGP","year":2016.756,"value":113990},{"c":4,"series":"EPGP","year":2016.806,"value":110350},{"c":4,"series":"EPGP","year":2016.856,"value":109160},{"c":4,"series":"EPGP","year":2016.907,"value":112170},{"c":4,"series":"EPGP","year":2016.957,"value":113370},{"c":4,"series":"EPGP","year":2017.007,"value":110970},{"c":4,"series":"EPGP","year":2017.057,"value":107330},{"c":4,"series":"EPGP","year":2017.096,"value":103080},{"c":4,"series":"EPGP","year":2017.132,"value":103700},{"c":4,"series":"EPGP","year":2017.166,"value":101260},{"c":4,"series":"EPGP","year":2017.207,"value":101880},{"c":4,"series":"EPGP","year":2017.257,"value":100060},{"c":4,"series":"EPGP","year":2017.297,"value":102470},{"c":4,"series":"EPGP","year":2017.332,"value":101260},{"c":4,"series":"EPGP","year":2017.357,"value":99450},
      {"c":4,"series":"MSCI","year":2015.605,"value":118250},{"c":4,"series":"MSCI","year":2015.655,"value":117630},{"c":4,"series":"MSCI","year":2015.705,"value":117630},{"c":4,"series":"MSCI","year":2015.745,"value":112790},{"c":4,"series":"MSCI","year":2015.78,"value":106720},{"c":4,"series":"MSCI","year":2015.805,"value":104900},{"c":4,"series":"MSCI","year":2015.83,"value":107920},{"c":4,"series":"MSCI","year":2015.88,"value":108540},{"c":4,"series":"MSCI","year":2015.93,"value":107330},{"c":4,"series":"MSCI","year":2015.98,"value":107330},{"c":4,"series":"MSCI","year":2016.03,"value":106720},{"c":4,"series":"MSCI","year":2016.081,"value":106720},{"c":4,"series":"MSCI","year":2016.13,"value":107330},{"c":4,"series":"MSCI","year":2016.18,"value":108540},{"c":4,"series":"MSCI","year":2016.255,"value":108540},{"c":4,"series":"MSCI","year":2016.305,"value":111560},{"c":4,"series":"MSCI","year":2016.356,"value":113370},{"c":4,"series":"MSCI","year":2016.405,"value":113990},{"c":4,"series":"MSCI","year":2016.456,"value":114610},{"c":4,"series":"MSCI","year":2016.506,"value":113990},{"c":4,"series":"MSCI","year":2016.556,"value":114610},{"c":4,"series":"MSCI","year":2016.606,"value":113990},{"c":4,"series":"MSCI","year":2016.656,"value":115810},{"c":4,"series":"MSCI","year":2016.731,"value":117010},{"c":4,"series":"MSCI","year":2016.781,"value":117010},{"c":4,"series":"MSCI","year":2016.831,"value":117010},{"c":4,"series":"MSCI","year":2016.882,"value":118250},{"c":4,"series":"MSCI","year":2016.932,"value":118830},{"c":4,"series":"MSCI","year":2016.982,"value":118830},{"c":4,"series":"MSCI","year":2017.032,"value":117010},{"c":4,"series":"MSCI","year":2017.057,"value":113990},{"c":4,"series":"MSCI","year":2017.106,"value":113370},{"c":4,"series":"MSCI","year":2017.156,"value":112170},{"c":4,"series":"MSCI","year":2017.207,"value":112170},{"c":4,"series":"MSCI","year":2017.257,"value":111560},{"c":4,"series":"MSCI","year":2017.297,"value":108540},{"c":4,"series":"MSCI","year":2017.332,"value":106720},{"c":4,"series":"MSCI","year":2017.357,"value":103080},
      {"c":5,"series":"EPGP","year":2017.717,"value":153990},{"c":5,"series":"EPGP","year":2017.832,"value":153380},{"c":5,"series":"EPGP","year":2017.907,"value":152170},{"c":5,"series":"EPGP","year":2017.982,"value":150350},{"c":5,"series":"EPGP","year":2018.048,"value":150350},{"c":5,"series":"EPGP","year":2018.072,"value":143080},{"c":5,"series":"EPGP","year":2018.132,"value":143080},{"c":5,"series":"EPGP","year":2018.183,"value":143690},{"c":5,"series":"EPGP","year":2018.233,"value":143080},{"c":5,"series":"EPGP","year":2018.282,"value":143690},{"c":5,"series":"EPGP","year":2018.333,"value":139440},{"c":5,"series":"EPGP","year":2018.383,"value":137010},{"c":5,"series":"EPGP","year":2018.432,"value":137620},{"c":5,"series":"EPGP","year":2018.458,"value":140060},{"c":5,"series":"EPGP","year":2018.507,"value":143080},{"c":5,"series":"EPGP","year":2018.582,"value":143080},{"c":5,"series":"EPGP","year":2018.633,"value":145510},{"c":5,"series":"EPGP","year":2018.683,"value":143080},{"c":5,"series":"EPGP","year":2018.718,"value":143690},{"c":5,"series":"EPGP","year":2018.758,"value":142460},{"c":5,"series":"EPGP","year":2018.833,"value":143080},{"c":5,"series":"EPGP","year":2018.908,"value":141880},{"c":5,"series":"EPGP","year":2018.983,"value":141880},{"c":5,"series":"EPGP","year":2019.033,"value":144280},{"c":5,"series":"EPGP","year":2019.084,"value":145510},{"c":5,"series":"EPGP","year":2019.133,"value":142460},{"c":5,"series":"EPGP","year":2019.183,"value":139440},{"c":5,"series":"EPGP","year":2019.234,"value":137620},{"c":5,"series":"EPGP","year":2019.283,"value":136420},{"c":5,"series":"EPGP","year":2019.333,"value":135190},{"c":5,"series":"EPGP","year":2019.384,"value":133370},{"c":5,"series":"EPGP","year":2019.433,"value":130970},{"c":5,"series":"EPGP","year":2019.474,"value":127920},
      {"c":5,"series":"MSCI","year":2017.717,"value":153990},{"c":5,"series":"MSCI","year":2017.782,"value":154610},{"c":5,"series":"MSCI","year":2017.832,"value":153380},{"c":5,"series":"MSCI","year":2017.907,"value":152170},{"c":5,"series":"MSCI","year":2017.982,"value":150970},{"c":5,"series":"MSCI","year":2018.033,"value":150350},{"c":5,"series":"MSCI","year":2018.072,"value":145510},{"c":5,"series":"MSCI","year":2018.107,"value":144280},{"c":5,"series":"MSCI","year":2018.157,"value":145510},{"c":5,"series":"MSCI","year":2018.207,"value":147330},{"c":5,"series":"MSCI","year":2018.258,"value":145510},{"c":5,"series":"MSCI","year":2018.308,"value":144900},{"c":5,"series":"MSCI","year":2018.357,"value":141880},{"c":5,"series":"MSCI","year":2018.408,"value":140640},{"c":5,"series":"MSCI","year":2018.458,"value":143690},{"c":5,"series":"MSCI","year":2018.518,"value":145510},{"c":5,"series":"MSCI","year":2018.582,"value":147330},{"c":5,"series":"MSCI","year":2018.633,"value":146710},{"c":5,"series":"MSCI","year":2018.683,"value":146710},{"c":5,"series":"MSCI","year":2018.733,"value":145510},{"c":5,"series":"MSCI","year":2018.783,"value":144900},{"c":5,"series":"MSCI","year":2018.858,"value":144280},{"c":5,"series":"MSCI","year":2018.908,"value":144280},{"c":5,"series":"MSCI","year":2018.983,"value":146710},{"c":5,"series":"MSCI","year":2019.033,"value":147330},{"c":5,"series":"MSCI","year":2019.084,"value":144900},{"c":5,"series":"MSCI","year":2019.133,"value":143080},{"c":5,"series":"MSCI","year":2019.183,"value":141880},{"c":5,"series":"MSCI","year":2019.234,"value":139440},{"c":5,"series":"MSCI","year":2019.283,"value":138240},{"c":5,"series":"MSCI","year":2019.333,"value":137620},{"c":5,"series":"MSCI","year":2019.384,"value":137010},{"c":5,"series":"MSCI","year":2019.433,"value":135810},{"c":5,"series":"MSCI","year":2019.474,"value":132790},
      {"c":6,"series":"EPGP","year":2020.135,"value":153380},{"c":6,"series":"EPGP","year":2020.21,"value":153140},{"c":6,"series":"EPGP","year":2020.285,"value":153010},{"c":6,"series":"EPGP","year":2020.36,"value":152780},{"c":6,"series":"EPGP","year":2020.41,"value":152530},{"c":6,"series":"EPGP","year":2020.46,"value":152170},{"c":6,"series":"EPGP","year":2020.511,"value":152170},{"c":6,"series":"EPGP","year":2020.56,"value":151800},{"c":6,"series":"EPGP","year":2020.61,"value":152170},{"c":6,"series":"EPGP","year":2020.661,"value":152530},{"c":6,"series":"EPGP","year":2020.736,"value":152530},{"c":6,"series":"EPGP","year":2020.811,"value":152530},{"c":6,"series":"EPGP","year":2020.886,"value":152530},{"c":6,"series":"EPGP","year":2020.935,"value":152170},{"c":6,"series":"EPGP","year":2020.985,"value":152170},{"c":6,"series":"EPGP","year":2021.036,"value":151800},{"c":6,"series":"EPGP","year":2021.085,"value":151550},{"c":6,"series":"EPGP","year":2021.135,"value":150350},{"c":6,"series":"EPGP","year":2021.16,"value":148530},{"c":6,"series":"EPGP","year":2021.201,"value":147690},{"c":6,"series":"EPGP","year":2021.25,"value":147330},{"c":6,"series":"EPGP","year":2021.3,"value":147690},{"c":6,"series":"EPGP","year":2021.351,"value":147690},{"c":6,"series":"EPGP","year":2021.401,"value":146710},{"c":6,"series":"EPGP","year":2021.45,"value":146100},{"c":6,"series":"EPGP","year":2021.486,"value":144900},{"c":6,"series":"EPGP","year":2021.51,"value":143700},{"c":6,"series":"EPGP","year":2021.536,"value":142460},{"c":6,"series":"EPGP","year":2021.561,"value":141260},{"c":6,"series":"EPGP","year":2021.576,"value":138240},{"c":6,"series":"EPGP","year":2021.586,"value":137010},
      {"c":6,"series":"MSCI","year":2020.135,"value":153380},{"c":6,"series":"MSCI","year":2020.21,"value":153260},{"c":6,"series":"MSCI","year":2020.285,"value":153010},{"c":6,"series":"MSCI","year":2020.36,"value":152530},{"c":6,"series":"MSCI","year":2020.435,"value":152420},{"c":6,"series":"MSCI","year":2020.485,"value":151800},{"c":6,"series":"MSCI","year":2020.535,"value":151550},{"c":6,"series":"MSCI","year":2020.585,"value":152530},{"c":6,"series":"MSCI","year":2020.635,"value":153380},{"c":6,"series":"MSCI","year":2020.71,"value":153990},{"c":6,"series":"MSCI","year":2020.785,"value":154240},{"c":6,"series":"MSCI","year":2020.86,"value":154350},{"c":6,"series":"MSCI","year":2020.935,"value":154240},{"c":6,"series":"MSCI","year":2021.01,"value":154240},{"c":6,"series":"MSCI","year":2021.085,"value":153990},{"c":6,"series":"MSCI","year":2021.11,"value":153380},{"c":6,"series":"MSCI","year":2021.15,"value":150970},{"c":6,"series":"MSCI","year":2021.186,"value":149370},{"c":6,"series":"MSCI","year":2021.236,"value":148530},{"c":6,"series":"MSCI","year":2021.27,"value":148530},{"c":6,"series":"MSCI","year":2021.311,"value":149150},{"c":6,"series":"MSCI","year":2021.361,"value":149730},{"c":6,"series":"MSCI","year":2021.396,"value":148530},{"c":6,"series":"MSCI","year":2021.436,"value":147330},{"c":6,"series":"MSCI","year":2021.471,"value":147690},{"c":6,"series":"MSCI","year":2021.501,"value":146710},{"c":6,"series":"MSCI","year":2021.521,"value":145510},{"c":6,"series":"MSCI","year":2021.541,"value":143700},{"c":6,"series":"MSCI","year":2021.561,"value":143080},{"c":6,"series":"MSCI","year":2021.586,"value":140640}
    ]
  },
  "encoding": {
    "x": {
      "field": "year", "type": "quantitative",
      "scale": {"domain": [2008.8333, 2022.4523], "nice": false, "zero": false},
      "axis": {
        "title": null,
        "values": [2008.8333, 2009.8333, 2010.8333, 2011.8333, 2012.8333, 2013.8333, 2014.8333, 2015.8333, 2016.8333, 2017.8333, 2018.8333, 2019.8333, 2020.8333, 2021.8333],
        "labelExpr": "'nov. ' + (floor(datum.value) % 100 < 10 ? '0' : '') + (floor(datum.value) % 100)",
        "labelAngle": -33, "labelAlign": "right", "labelBaseline": "middle",
        "labelFontSize": 13.5, "labelFontWeight": 500, "labelColor": "#222222", "labelPadding": 4,
        "domainColor": "#cfcfc6", "tickColor": "#cfcfc6", "tickSize": 5, "domainWidth": 1.5
      }
    },
    "y": {
      "field": "value", "type": "quantitative",
      "scale": {"domain": [10000, 130000], "nice": false, "zero": false},
      "axis": {
        "title": null,
        "values": [10000, 30000, 50000, 70000, 90000, 110000, 130000],
        "labelExpr": "replace(format(datum.value, ','), ',', ' ') + ' $'",
        "labelFontSize": 13.5, "labelFontWeight": 600, "labelColor": "#111111", "labelPadding": 13,
        "domainColor": "#cfcfc6", "tickColor": "#cfcfc6", "tickSize": 5, "domainWidth": 1.5
      }
    }
  },
  "layer": [
    {
      "data": {"name": "main"},
      "mark": {"type": "line", "strokeWidth": 2.1, "clip": false},
      "encoding": {
        "color": {
          "field": "series", "type": "nominal",
          "scale": {"domain": ["EPGP", "MSCI"], "range": ["#e8792b", "#9b9b9b"]},
          "legend": {
            "title": null, "orient": "none", "legendX": 566, "legendY": 243,
            "symbolType": "stroke", "symbolSize": 841, "symbolStrokeWidth": 3,
            "labelFontSize": 14.7, "labelFontWeight": 500, "labelColor": "#222222", "labelFont": "Lato",
            "labelOffset": 18, "rowPadding": 12, "padding": 0, "labelLimit": 400,
            "labelExpr": "datum.label == 'EPGP' ? 'Portefeuille mondial EdgePoint, série F (PMEP)' : 'Indice MSCI Monde'"
          }
        }
      }
    },
    {
      "data": {"name": "tips"},
      "mark": {"type": "point", "filled": true, "color": "black", "opacity": 1, "size": 4},
      "encoding": {
        "shape": {
          "field": "c", "type": "nominal", "legend": null,
          "scale": {
            "domain": [1, 2, 3, 4, 5, 6],
            "range": ["M0,0L-10.5,-70.5L57,-48Z", "M0,0L13.5,-69L73.5,-31.5Z", "M0,0L20.8,-62.4L76.8,-27.2Z", "M0,0L-6,-60L50,-46Z", "M0,0L-50,-60L16,-64Z", "M0,0L-16,-62L48,-42Z"]
          }
        }
      }
    },
    {
      "data": {"name": "circles"},
      "mark": {"type": "point", "filled": true, "color": "#000000", "opacity": 0.12, "size": 23400, "xOffset": 2, "yOffset": 3}
    },
    {
      "data": {"name": "circles"},
      "mark": {"type": "point", "filled": true, "fill": "#fdfdfd", "opacity": 1, "stroke": "#a5a5a5", "strokeWidth": 1.2, "size": 22500}
    },
    {
      "data": {"name": "inset"},
      "mark": {"type": "line", "strokeWidth": 1.4, "clip": false},
      "encoding": {
        "detail": {"field": "c", "type": "nominal"},
        "color": {"field": "series", "type": "nominal"}
      }
    },
    {
      "data": {"name": "notes"},
      "mark": {"type": "text", "align": "left", "baseline": "middle", "lineBreak": "\n", "lineHeight": 16.7, "fontSize": 13.5, "font": "Lato", "color": "#1a1a1a"},
      "encoding": {"text": {"field": "label"}}
    },
    {
      "data": {"name": "totals"},
      "mark": {"type": "text", "align": "left", "baseline": "middle", "lineBreak": "\n", "lineHeight": 17.5, "fontSize": 14, "fontWeight": "bold", "font": "Lato", "color": "#111111"},
      "encoding": {"text": {"field": "label"}}
    }
  ]
}
